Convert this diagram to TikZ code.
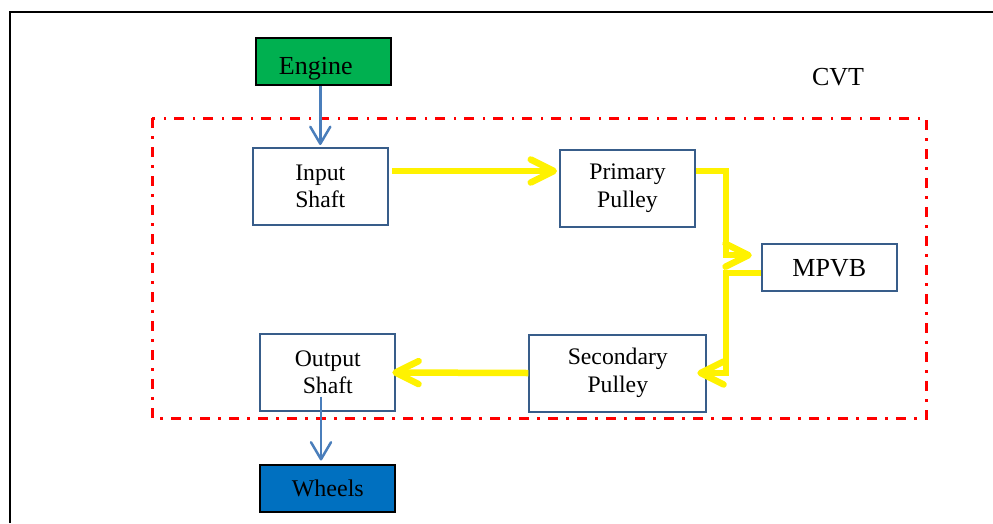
\documentclass[tikz,border=0pt]{standalone}
\usepackage{fontspec}
\setmainfont{Liberation Serif}
\usetikzlibrary{arrows.meta}

\definecolor{boxblue}{HTML}{385D8A}
\definecolor{linkblue}{HTML}{4A7EBB}
\definecolor{enginegreen}{HTML}{00B050}
\definecolor{wheelblue}{HTML}{0070C0}

\begin{document}
\begin{tikzpicture}[
  x=1pt, y=-1pt,
  part/.style={draw=boxblue, line width=2pt, fill=white, align=center, inner sep=0pt,
    minimum width=135pt, minimum height=77pt, font=\fontsize{23.7}{27.5}\selectfont},
  ends/.style={draw=black, line width=2pt, inner sep=0pt,
    minimum width=135pt, minimum height=47pt, font=\fontsize{26}{30}\selectfont},
  flow/.style={draw=yellow, line width=6.5pt, -{Straight Barb[round, length=23pt, width=23pt]}},
  link/.style={draw=linkblue, line width=2.5pt, -{Straight Barb[round, length=17pt, width=20pt]}},
  cvtbox/.style={draw=red, line width=2.6pt, dash pattern=on 10pt off 8pt on 2.5pt off 8.5pt}
]
\useasboundingbox (0,0) rectangle (993,523);
% outer frame
\draw[line width=2pt] (10,523) -- (10,12) -- (993,12);

% CVT boundary
\draw[cvtbox] (152.3,118.3) rectangle (926.7,418.3);
\node[font=\fontsize{26}{30}\selectfont] (cvt) at (838,77) {CVT};

% blocks
\node[ends, fill=enginegreen, text height=25pt, text depth=0pt] (engine) at (323.8,61.9) {Engine\hspace*{16pt}};
\node[part] (input) at (320.3,186.5) {Input\\Shaft};
\node[part] (primary) at (627.5,188) {Primary\\Pulley};
\node[part, minimum height=47pt, font=\fontsize{26}{30}\selectfont] (mpvb) at (829.3,267.7) {MPVB};
\node[part, minimum width=177pt] (secondary) at (617.8,373) {Secondary\\Pulley};
\node[part] (output) at (327.8,372.5) {Output\\Shaft};
\node[ends, fill=wheelblue, font=\fontsize{24}{28}\selectfont] (wheels) at (327.8,488) {Wheels};

% power path through the CVT
\draw[flow] ([xshift=3pt,yshift=15.5pt]input.east) -- ([xshift=-2pt,yshift=17pt]primary.west);
\draw[flow] ([yshift=17pt]primary.east) -- ++(30pt,0) |- ([xshift=-9pt,yshift=12.5pt]mpvb.west);
\draw[flow] ([yshift=-5.3pt]mpvb.west) -- ++(-35pt,0) |- ([xshift=-10pt]secondary.east);
\draw[flow] (secondary.west) -- ([xshift=-4pt]output.east);

% in and out
\draw[link] (engine.south -| input.north) -- ([yshift=2pt]input.north);
\draw[link] ([xshift=-6.8pt,yshift=-24pt]output.center) -- ([xshift=-6.8pt,yshift=3pt]wheels.north);
\end{tikzpicture}
\end{document}
